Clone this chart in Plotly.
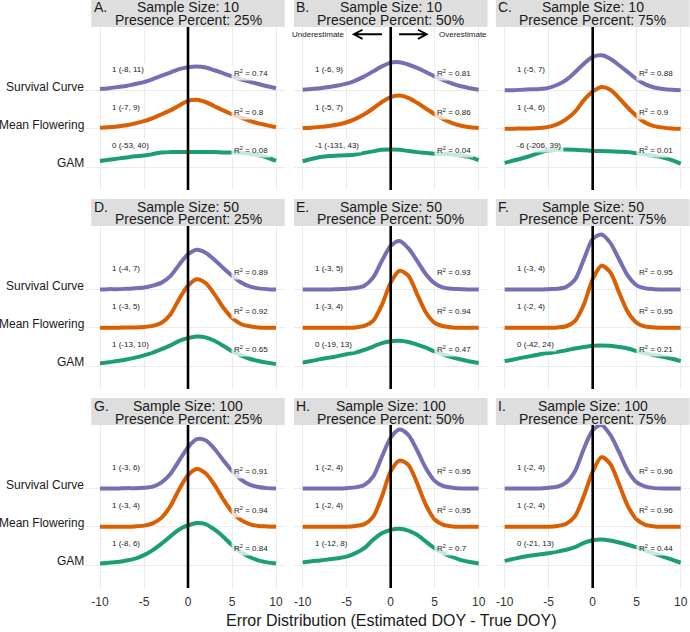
import plotly.graph_objects as go

# ---------------- data ----------------
X = list(range(-10, 11))
methods = ["Survival Curve", "Mean Flowering", "GAM"]
sample_sizes = [10, 50, 100]
presence_pct = [25, 50, 75]
panel_letters = ["A.", "B.", "C.", "D.", "E.", "F.", "G.", "H.", "I."]
x_tickvals = [-10, -5, 0, 5, 10]
x_ticktext = ["-10", "-5", "0", "5", "10"]

# ridge heights (density scaled) at X = -10..10
surv_A = [0.04,0.06,0.09,0.12,0.17,0.22,0.30,0.39,0.47,0.56,0.61,0.63,0.60,0.53,0.45,0.37,0.29,0.23,0.17,0.11,0.06]
mf_A   = [0.03,0.04,0.06,0.09,0.14,0.20,0.28,0.38,0.48,0.61,0.73,0.76,0.70,0.59,0.48,0.38,0.29,0.21,0.14,0.09,0.04]
gam_A  = [0.16,0.19,0.22,0.25,0.28,0.30,0.34,0.38,0.39,0.39,0.39,0.39,0.39,0.39,0.38,0.38,0.37,0.35,0.31,0.25,0.16]

surv_B = [0.02,0.04,0.06,0.09,0.13,0.18,0.26,0.37,0.50,0.63,0.73,0.74,0.68,0.59,0.48,0.37,0.27,0.18,0.11,0.06,0.02]
mf_B   = [0.02,0.03,0.05,0.07,0.11,0.17,0.26,0.38,0.53,0.70,0.83,0.87,0.81,0.68,0.53,0.38,0.25,0.15,0.08,0.04,0.02]
gam_B  = [0.15,0.21,0.26,0.29,0.30,0.31,0.33,0.37,0.41,0.45,0.46,0.45,0.42,0.39,0.37,0.35,0.34,0.33,0.30,0.26,0.18]

surv_C = [0.01,0.01,0.02,0.03,0.04,0.07,0.15,0.28,0.48,0.70,0.88,0.92,0.83,0.66,0.48,0.30,0.16,0.08,0.04,0.02,0.01]
mf_C   = [0.00,0.00,0.01,0.01,0.02,0.05,0.12,0.25,0.45,0.75,0.97,1.09,1.02,0.80,0.55,0.33,0.16,0.07,0.03,0.01,0.00]
gam_C  = [0.11,0.17,0.23,0.30,0.38,0.43,0.45,0.46,0.45,0.44,0.42,0.42,0.41,0.40,0.39,0.36,0.33,0.29,0.25,0.18,0.09]

surv_D = [0.00,0.01,0.01,0.02,0.03,0.05,0.10,0.18,0.35,0.65,0.92,1.04,0.96,0.78,0.56,0.36,0.19,0.08,0.03,0.01,0.00]
mf_D   = [0.00,0.00,0.00,0.01,0.01,0.02,0.05,0.13,0.35,0.75,1.10,1.27,1.17,0.88,0.53,0.26,0.10,0.04,0.01,0.00,0.00]
gam_D  = [0.07,0.10,0.13,0.17,0.22,0.28,0.35,0.44,0.54,0.66,0.73,0.77,0.75,0.66,0.53,0.39,0.28,0.19,0.13,0.09,0.05]

surv_E = [0.00,0.00,0.00,0.00,0.01,0.02,0.04,0.10,0.31,0.75,1.14,1.27,1.08,0.75,0.40,0.16,0.05,0.02,0.01,0.00,0.00]
mf_E   = [0.00,0.00,0.00,0.00,0.00,0.00,0.01,0.05,0.18,0.60,1.18,1.49,1.36,0.88,0.40,0.13,0.04,0.01,0.00,0.00,0.00]
gam_E  = [0.09,0.13,0.18,0.22,0.26,0.31,0.35,0.42,0.51,0.60,0.65,0.66,0.63,0.56,0.48,0.38,0.30,0.23,0.17,0.12,0.08]

surv_F = [0.00,0.00,0.00,0.00,0.00,0.01,0.02,0.07,0.26,0.79,1.32,1.44,1.22,0.79,0.36,0.11,0.03,0.01,0.00,0.00,0.00]
mf_F   = [0.00,0.00,0.00,0.00,0.00,0.00,0.01,0.04,0.18,0.61,1.27,1.62,1.45,0.92,0.41,0.13,0.03,0.01,0.00,0.00,0.00]
gam_F  = [0.13,0.17,0.22,0.26,0.31,0.34,0.37,0.41,0.46,0.50,0.53,0.54,0.53,0.50,0.46,0.39,0.33,0.28,0.24,0.19,0.13]

surv_G = [0.00,0.00,0.00,0.01,0.01,0.02,0.05,0.16,0.38,0.73,1.08,1.29,1.26,1.04,0.74,0.46,0.24,0.10,0.04,0.01,0.00]
mf_G   = [0.00,0.00,0.00,0.00,0.01,0.03,0.09,0.24,0.54,0.98,1.35,1.51,1.40,1.10,0.72,0.39,0.18,0.07,0.02,0.01,0.00]
gam_G  = [0.04,0.06,0.08,0.12,0.17,0.26,0.39,0.56,0.75,0.93,1.04,1.10,1.07,0.93,0.74,0.52,0.34,0.21,0.12,0.07,0.04]

surv_H = [0.00,0.00,0.00,0.00,0.00,0.01,0.03,0.09,0.31,0.83,1.33,1.54,1.40,1.00,0.53,0.20,0.06,0.02,0.00,0.00,0.00]
mf_H   = [0.00,0.00,0.00,0.00,0.00,0.00,0.02,0.07,0.26,0.79,1.45,1.73,1.62,1.14,0.57,0.19,0.05,0.01,0.00,0.00,0.00]
gam_H  = [0.07,0.10,0.12,0.15,0.18,0.22,0.31,0.44,0.66,0.83,0.92,0.95,0.90,0.79,0.61,0.44,0.31,0.21,0.13,0.08,0.04]

surv_I = [0.00,0.00,0.00,0.00,0.00,0.02,0.05,0.16,0.46,1.04,1.52,1.66,1.40,0.95,0.46,0.16,0.05,0.01,0.00,0.00,0.00]
mf_I   = [0.00,0.00,0.00,0.00,0.00,0.00,0.02,0.08,0.28,0.81,1.44,1.82,1.64,1.11,0.54,0.19,0.05,0.01,0.00,0.00,0.00]
gam_I  = [0.11,0.16,0.21,0.25,0.28,0.31,0.35,0.40,0.47,0.58,0.65,0.67,0.64,0.59,0.53,0.46,0.38,0.30,0.22,0.14,0.06]

# mean (CI) labels per panel: Survival, Mean Flowering, GAM
ci_labels = [
    ["1 (-8, 11)", "1 (-7, 9)", "0 (-53, 40)"],
    ["1 (-6, 9)", "1 (-5, 7)", "-1 (-131, 43)"],
    ["1 (-5, 7)", "1 (-4, 6)", "-6 (-206, 39)"],
    ["1 (-4, 7)", "1 (-3, 5)", "1 (-13, 10)"],
    ["1 (-3, 5)", "1 (-3, 4)", "0 (-19, 13)"],
    ["1 (-3, 4)", "1 (-2, 4)", "0 (-42, 24)"],
    ["1 (-3, 6)", "1 (-3, 4)", "1 (-8, 6)"],
    ["1 (-2, 4)", "1 (-2, 4)", "1 (-12, 8)"],
    ["1 (-2, 4)", "1 (-2, 4)", "0 (-21, 13)"],
]
r2_values = [
    ["0.74", "0.8", "0.08"],
    ["0.81", "0.86", "0.04"],
    ["0.88", "0.9", "0.01"],
    ["0.89", "0.92", "0.65"],
    ["0.93", "0.94", "0.47"],
    ["0.95", "0.95", "0.21"],
    ["0.91", "0.94", "0.84"],
    ["0.95", "0.95", "0.7"],
    ["0.96", "0.96", "0.44"],
]

panels = [
    (surv_A, mf_A, gam_A), (surv_B, mf_B, gam_B), (surv_C, mf_C, gam_C),
    (surv_D, mf_D, gam_D), (surv_E, mf_E, gam_E), (surv_F, mf_F, gam_F),
    (surv_G, mf_G, gam_G), (surv_H, mf_H, gam_H), (surv_I, mf_I, gam_I),
]

# ---------------- styling / layout ----------------
W, H = 690, 632
FONT = "Liberation Sans, Arial, Helvetica, sans-serif"
colors = {"Survival Curve": "#7570B3", "Mean Flowering": "#D95F02", "GAM": "#1B9E77"}
baseline = {"Survival Curve": 3, "Mean Flowering": 2, "GAM": 1}
col_px = [(91.2, 284.8), (293.9, 487.5), (495.9, 689.5)]
row_px = [(27, 190), (226, 389), (425, 588)]
STRIP_H = 27
YR = [0.4, 4.66]
XR = [-11, 11]
GRID = "#EBEBEB"
TXT = "#1a1a1a"

fig = go.Figure()
annotations = []
shapes = []
layout_axes = {}

for idx, curves in enumerate(panels):
    r, c = divmod(idx, 3)
    n = idx + 1
    xa = "x" if n == 1 else f"x{n}"
    ya = "y" if n == 1 else f"y{n}"
    for m, h in zip(methods, curves):
        fig.add_trace(go.Scatter(
            x=X, y=[baseline[m] + v for v in h], mode="lines",
            line=dict(color=colors[m], width=4, shape="spline", smoothing=0.8),
            xaxis=xa, yaxis=ya, showlegend=False, hoverinfo="skip"))
    # vertical zero line
    fig.add_trace(go.Scatter(
        x=[0, 0], y=YR, mode="lines", line=dict(color="black", width=2.6),
        xaxis=xa, yaxis=ya, showlegend=False, hoverinfo="skip"))

    x0, x1 = col_px[c]
    y0, y1 = row_px[r]
    layout_axes["xaxis" if n == 1 else f"xaxis{n}"] = dict(
        domain=[x0 / W, x1 / W], range=XR, anchor=ya,
        tickvals=x_tickvals, ticktext=x_ticktext, showticklabels=(r == 2),
        tickfont=dict(size=12, color="#333333", family=FONT),
        ticklabelstandoff=5,
        showgrid=True, gridcolor=GRID, gridwidth=1, zeroline=False,
        showline=False, ticks="", fixedrange=True)
    layout_axes["yaxis" if n == 1 else f"yaxis{n}"] = dict(
        domain=[1 - y1 / H, 1 - y0 / H], range=YR, anchor=xa,
        tickvals=[1, 2, 3], showticklabels=False,
        showgrid=True, gridcolor=GRID, gridwidth=1, zeroline=False,
        showline=False, ticks=("outside" if c == 0 else ""), ticklen=4,
        tickcolor=GRID, fixedrange=True)

    # strip
    st = y0 - STRIP_H
    shapes.append(dict(type="rect", xref="paper", yref="paper",
                       x0=x0 / W, x1=x1 / W, y0=1 - y0 / H, y1=1 - st / H,
                       fillcolor="#DEDEDE", line=dict(width=0), layer="below"))
    xc = (x0 + x1) / 2 / W
    annotations.append(dict(text=f"Sample Size: {sample_sizes[r]}", xref="paper", yref="paper",
                            x=xc, y=1 - (st + 7.5) / H, xanchor="center", yanchor="middle",
                            showarrow=False, font=dict(size=14, color=TXT, family=FONT)))
    annotations.append(dict(text=f"Presence Percent: {presence_pct[c]}%", xref="paper", yref="paper",
                            x=xc, y=1 - (st + 20.5) / H, xanchor="center", yanchor="middle",
                            showarrow=False, font=dict(size=14, color=TXT, family=FONT)))
    annotations.append(dict(text=panel_letters[idx], xref="paper", yref="paper",
                            x=(x0 + 0.5) / W, y=1 - (st + 7.5) / H, xanchor="left", yanchor="middle",
                            showarrow=False, font=dict(size=14, color=TXT, family=FONT)))

    # mean (CI) and R2 labels
    for k, m in enumerate(methods):
        annotations.append(dict(text=ci_labels[idx][k], xref=xa, yref=ya,
                                x=-8.94, y=baseline[m] + 0.56, xanchor="left", yanchor="middle",
                                showarrow=False, bgcolor="rgba(255,255,255,0.75)", borderpad=2,
                                font=dict(size=8, color=TXT, family=FONT)))
        annotations.append(dict(text=f"R<sup>2</sup> = {r2_values[idx][k]}", xref=xa, yref=ya,
                                x=4.91, y=baseline[m] + 0.45, xanchor="left", yanchor="middle",
                                showarrow=False, bgcolor="rgba(255,255,255,0.75)", borderpad=2,
                                font=dict(size=8, color=TXT, family=FONT)))

# y-axis category labels (first column)
for r in range(3):
    n = r * 3 + 1
    ya = "y" if n == 1 else f"y{n}"
    for m in methods:
        annotations.append(dict(text=m, xref="paper", yref=ya, x=85.5 / W, y=baseline[m],
                                xanchor="right", yanchor="middle", yshift=4, showarrow=False,
                                font=dict(size=12, color=TXT, family=FONT)))

# direction hints in panel B
ARROW_Y = 4.47
annotations.append(dict(text="Underestimate", xref="x2", yref="y2", x=-4.93, y=ARROW_Y,
                        xanchor="right", yanchor="middle", showarrow=False,
                        font=dict(size=8, color=TXT, family=FONT)))
annotations.append(dict(text="Overestimate", xref="x2", yref="y2", x=5.23, y=ARROW_Y,
                        xanchor="left", yanchor="middle", showarrow=False,
                        font=dict(size=8, color=TXT, family=FONT)))
arrow_tails = [-1.0, 0.95]
arrow_heads = [-4.2, 4.1]
for t, hd in zip(arrow_tails, arrow_heads):
    d = 1.0 if hd < t else -1.0
    path = (f"M {t},{ARROW_Y} L {hd},{ARROW_Y} "
            f"M {hd + d},{ARROW_Y + 0.12} L {hd},{ARROW_Y} L {hd + d},{ARROW_Y - 0.12}")
    shapes.append(dict(type="path", xref="x2", yref="y2", path=path,
                       line=dict(color="black", width=1.8)))

# x-axis title
annotations.append(dict(text="Error Distribution (Estimated DOY - True DOY)", xref="paper", yref="paper",
                        x=390.5 / W, y=1 - 620 / H, xanchor="center", yanchor="middle",
                        showarrow=False, font=dict(size=16, color=TXT, family=FONT)))

fig.update_layout(
    width=W, height=H, margin=dict(l=0, r=0, t=0, b=0),
    paper_bgcolor="white", plot_bgcolor="white",
    font=dict(family=FONT, color=TXT),
    annotations=annotations, shapes=shapes, showlegend=False,
    **layout_axes)

fig.write_html("out.html", config={"displayModeBar": False},
               post_script="document.body.style.margin='0';")
